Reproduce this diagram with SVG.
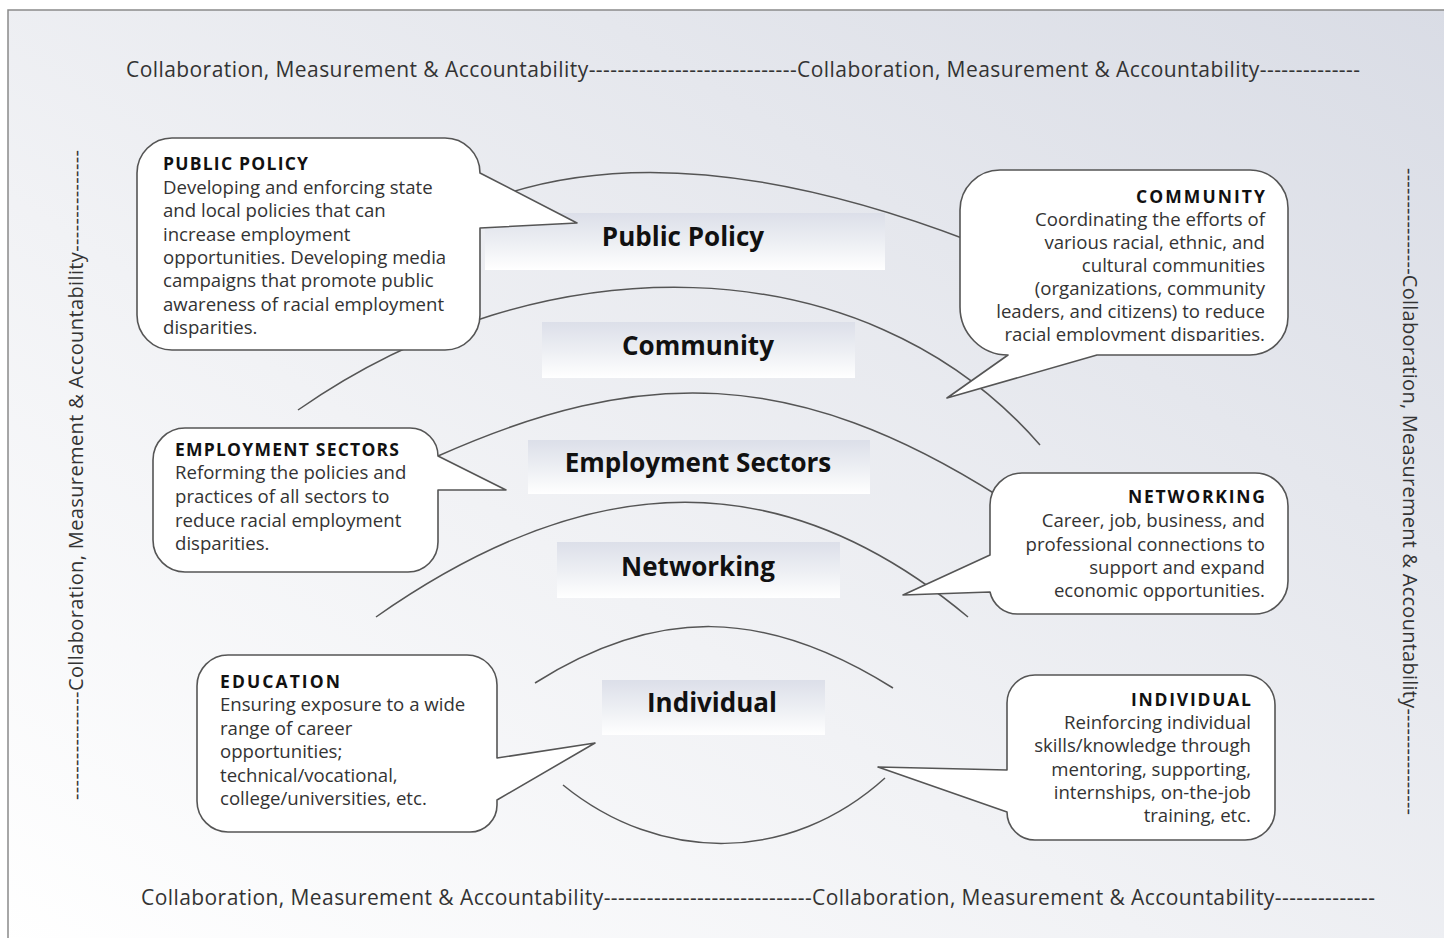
<svg xmlns="http://www.w3.org/2000/svg" width="1444" height="938" viewBox="0 0 1444 938">
<defs>
<linearGradient id="bg" x1="0" y1="1" x2="1" y2="0">
<stop offset="0" stop-color="#ffffff"/>
<stop offset="0.4" stop-color="#f1f2f5"/>
<stop offset="1" stop-color="#d9dce5"/>
</linearGradient>
<linearGradient id="band" x1="0" y1="0" x2="0" y2="1">
<stop offset="0" stop-color="#dcdfe9"/>
<stop offset="0.55" stop-color="#eef0f4"/>
<stop offset="1" stop-color="#ffffff"/>
</linearGradient>
<clipPath id="commClip"><rect x="950" y="160" width="350" height="181"/></clipPath>
<style>
.bubble{fill:#ffffff;stroke:#555555;stroke-width:1.6;stroke-linejoin:round}
.arc{fill:none;stroke:#555555;stroke-width:1.5}
.band{fill:url(#band)}
.lbl{font-family:"Open Sans","Liberation Sans",sans-serif;font-weight:700;font-size:26px;fill:#111111;text-anchor:middle}
.ttl{font-family:"Open Sans","Liberation Sans",sans-serif;font-weight:700;font-size:17.5px;fill:#111111}
.body{font-family:"Open Sans","Liberation Sans",sans-serif;font-size:18.6px;fill:#333333}
.end{text-anchor:end}
.cma{font-family:"Open Sans","Liberation Sans",sans-serif;font-size:21px;fill:#333333}
.cmav{font-family:"Open Sans","Liberation Sans",sans-serif;font-size:20px;fill:#333333}
</style>
</defs>
<rect x="0" y="0" width="1444" height="938" fill="#ffffff"/>
<rect x="8" y="10" width="1450" height="940" fill="url(#bg)" stroke="#8a8a8a" stroke-width="1.5"/>

<g id="frame-text">
<text class="cma" x="126" y="77" textLength="1234">Collaboration, Measurement &amp; Accountability-----------------------------Collaboration, Measurement &amp; Accountability--------------</text>
<text class="cma" x="141" y="905" textLength="1234">Collaboration, Measurement &amp; Accountability-----------------------------Collaboration, Measurement &amp; Accountability--------------</text>
<text class="cmav" transform="translate(83,800) rotate(-90)" textLength="650">----------------Collaboration, Measurement &amp; Accountability---------------</text>
<text class="cmav" transform="translate(1403,168) rotate(90)" textLength="647">----------------Collaboration, Measurement &amp; Accountability----------------</text>
</g>

<g id="connectors">
<path class="arc" d="M505,194 Q690,134 970,241"/>
<path class="arc" d="M298,410 C540,241 863,241 1040,445"/>
<path class="arc" d="M438,456 C640,366 794,366 1000,497"/>
<path class="arc" d="M376,617 C594,464 785,464 968,617"/>
<path class="arc" d="M535,683 C656,607 764,607 893,688"/>
<path class="arc" d="M563,785 C660,864 790,864 885,778"/>
</g>

<g id="label-public-policy">
<rect class="band" x="485" y="213" width="400" height="57"/>
<text class="lbl" x="683" y="246">Public Policy</text>
</g>
<g id="label-community">
<rect class="band" x="542" y="322" width="313" height="56"/>
<text class="lbl" x="698" y="355">Community</text>
</g>
<g id="label-employment-sectors">
<rect class="band" x="528" y="440" width="342" height="54"/>
<text class="lbl" x="698" y="472">Employment Sectors</text>
</g>
<g id="label-networking">
<rect class="band" x="557" y="542" width="283" height="56"/>
<text class="lbl" x="698" y="576">Networking</text>
</g>
<g id="label-individual">
<rect class="band" x="602" y="680" width="223" height="55"/>
<text class="lbl" x="712" y="712">Individual</text>
</g>

<g id="callout-public-policy">
<path class="bubble" d="M172,138 H445 A35,35 0 0 1 480,173 L577,223 L480,228 V315 A35,35 0 0 1 445,350 H172 A35,35 0 0 1 137,315 V173 A35,35 0 0 1 172,138 Z"/>
<text class="ttl" x="163" y="170" textLength="145">PUBLIC POLICY</text>
<text class="body" x="163" y="194">Developing and enforcing state</text>
<text class="body" x="163" y="217">and local policies that can</text>
<text class="body" x="163" y="241">increase employment</text>
<text class="body" x="163" y="264">opportunities. Developing media</text>
<text class="body" x="163" y="287">campaigns that promote public</text>
<text class="body" x="163" y="311">awareness of racial employment</text>
<text class="body" x="163" y="334">disparities.</text>
</g>

<g id="callout-community">
<path class="bubble" d="M1000,170 H1250 A38,38 0 0 1 1288,208 V317 A38,38 0 0 1 1250,355 H1097 L947,398 L1008,355 A48,48 0 0 1 960,307 V210 A40,40 0 0 1 1000,170 Z"/>
<text class="ttl end" x="1265" y="203" textLength="129">COMMUNITY</text>
<text class="body end" x="1265" y="226">Coordinating the efforts of</text>
<text class="body end" x="1265" y="249">various racial, ethnic, and</text>
<text class="body end" x="1265" y="272">cultural communities</text>
<text class="body end" x="1265" y="295">(organizations, community</text>
<text class="body end" x="1265" y="318">leaders, and citizens) to reduce</text>
<text class="body end" x="1265" y="341" clip-path="url(#commClip)">racial employment disparities.</text>
</g>

<g id="callout-employment-sectors">
<path class="bubble" d="M185,428 H410 A28,28 0 0 1 438,456 L506,490 L438,490 V542 A30,30 0 0 1 408,572 H185 A32,32 0 0 1 153,540 V460 A32,32 0 0 1 185,428 Z"/>
<text class="ttl" x="175" y="456" textLength="224">EMPLOYMENT SECTORS</text>
<text class="body" x="175" y="479">Reforming the policies and</text>
<text class="body" x="175" y="503">practices of all sectors to</text>
<text class="body" x="175" y="527">reduce racial employment</text>
<text class="body" x="175" y="550">disparities.</text>
</g>

<g id="callout-networking">
<path class="bubble" d="M1022,473 H1255 A33,33 0 0 1 1288,506 V581 A33,33 0 0 1 1255,614 H1018 A28,28 0 0 1 990,592 L903,595 L990,555 V505 A32,32 0 0 1 1022,473 Z"/>
<text class="ttl end" x="1265" y="503" textLength="137">NETWORKING</text>
<text class="body end" x="1265" y="527">Career, job, business, and</text>
<text class="body end" x="1265" y="551">professional connections to</text>
<text class="body end" x="1265" y="574">support and expand</text>
<text class="body end" x="1265" y="597">economic opportunities.</text>
</g>

<g id="callout-education">
<path class="bubble" d="M228,655 H467 A30,30 0 0 1 497,685 V758 L595,743 L497,800 V805 A27,27 0 0 1 470,832 H228 A31,31 0 0 1 197,801 V686 A31,31 0 0 1 228,655 Z"/>
<text class="ttl" x="220" y="688" textLength="120">EDUCATION</text>
<text class="body" x="220" y="711">Ensuring exposure to a wide</text>
<text class="body" x="220" y="735">range of career</text>
<text class="body" x="220" y="758">opportunities;</text>
<text class="body" x="220" y="782">technical/vocational,</text>
<text class="body" x="220" y="805">college/universities, etc.</text>
</g>

<g id="callout-individual">
<path class="bubble" d="M1035,675 H1245 A30,30 0 0 1 1275,705 V810 A30,30 0 0 1 1245,840 H1035 A28,28 0 0 1 1007,812 L878,767 L1007,770 V703 A28,28 0 0 1 1035,675 Z"/>
<text class="ttl end" x="1251" y="706" textLength="120">INDIVIDUAL</text>
<text class="body end" x="1251" y="729">Reinforcing individual</text>
<text class="body end" x="1251" y="752">skills/knowledge through</text>
<text class="body end" x="1251" y="776">mentoring, supporting,</text>
<text class="body end" x="1251" y="799">internships, on-the-job</text>
<text class="body end" x="1251" y="822">training, etc.</text>
</g>
</svg>
